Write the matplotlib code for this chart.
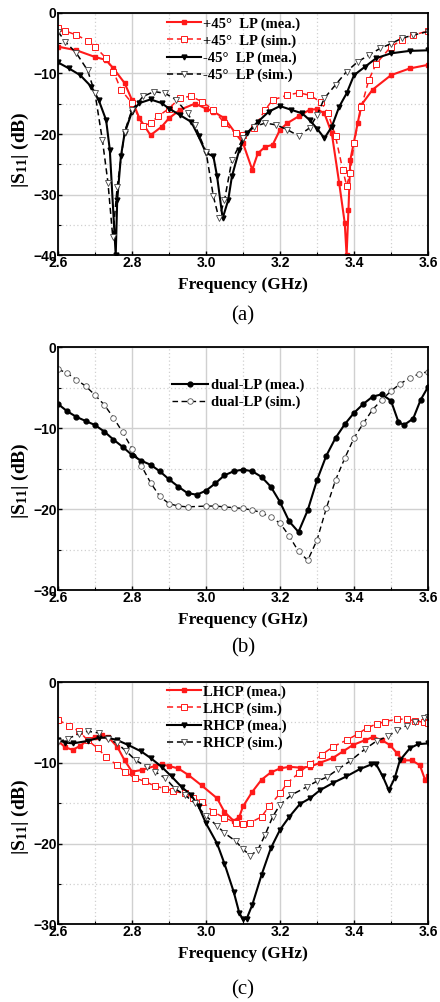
import matplotlib
matplotlib.use("Agg")
import matplotlib.pyplot as plt
from matplotlib.ticker import MultipleLocator

# ---------------- Data (a) ----------------
a_p45_mea_f = [2.6, 2.65, 2.7, 2.73, 2.75, 2.78, 2.8, 2.82, 2.85, 2.88, 2.9, 2.93, 2.97, 3.0, 3.02, 3.05,
               3.08, 3.1, 3.125, 3.14, 3.16, 3.18, 3.2, 3.22, 3.25, 3.28, 3.3, 3.32, 3.34, 3.36, 3.375,
               3.38, 3.385, 3.39, 3.41, 3.42, 3.45, 3.5, 3.55, 3.6]
a_p45_mea_s = [-5.6, -6.2, -7.3, -7.8, -9.2, -11.6, -14.4, -17.4, -20.2, -18.8, -17.4, -16.0, -15.0, -15.8,
               -16.3, -17.4, -19.9, -21.5, -25.9, -23.2, -22.1, -21.8, -19.3, -18.2, -17.1, -16.0, -15.9,
               -16.6, -19.9, -28.1, -34.7, -40.0, -32.5, -24.3, -18.2, -15.2, -12.7, -10.3, -9.2, -8.6]

a_p45_sim_f = [2.6, 2.62, 2.65, 2.68, 2.7, 2.73, 2.75, 2.77, 2.8, 2.83, 2.85, 2.87, 2.9, 2.93, 2.96, 2.99,
               3.02, 3.05, 3.08, 3.1, 3.13, 3.16, 3.18, 3.22, 3.25, 3.28, 3.31, 3.33, 3.35, 3.37, 3.38,
               3.39, 3.4, 3.42, 3.44, 3.46, 3.5, 3.53, 3.56, 3.6]
a_p45_sim_s = [-2.6, -3.0, -3.7, -4.6, -5.6, -7.5, -9.7, -12.7, -14.9, -18.7, -18.2, -17.1, -15.8, -14.0,
               -13.8, -14.7, -16.0, -18.2, -19.9, -20.2, -19.0, -16.0, -14.4, -13.6, -13.2, -13.6, -14.7,
               -16.6, -20.4, -26.0, -28.5, -26.5, -21.5, -15.5, -11.1, -8.4, -5.6, -4.5, -3.7, -3.0]

a_m45_mea_f = [2.6, 2.63, 2.66, 2.69, 2.71, 2.73, 2.74, 2.756, 2.76, 2.77, 2.78, 2.8, 2.82, 2.85, 2.88,
               2.9, 2.93, 2.96, 2.98, 3.0, 3.02, 3.03, 3.045, 3.06, 3.07, 3.09, 3.11, 3.14, 3.17, 3.2,
               3.23, 3.26, 3.28, 3.3, 3.32, 3.34, 3.36, 3.38, 3.4, 3.43, 3.46, 3.5, 3.55, 3.6]
a_m45_mea_s = [-8.2, -9.2, -10.3, -12.2, -14.4, -17.7, -22.6, -40.0, -30.9, -23.7, -19.9, -16.3, -14.9,
               -14.3, -14.9, -15.8, -16.9, -18.0, -20.4, -23.1, -23.7, -27.0, -33.9, -30.9, -27.0, -22.6,
               -19.9, -18.0, -16.3, -15.4, -16.0, -16.6, -17.7, -19.1, -20.7, -18.8, -15.5, -13.3, -10.3,
               -8.9, -7.5, -6.7, -6.3, -6.2]

a_m45_sim_f = [2.6, 2.62, 2.65, 2.68, 2.7, 2.72, 2.735, 2.748, 2.76, 2.78, 2.8, 2.83, 2.86, 2.89, 2.92,
               2.95, 2.97, 3.0, 3.02, 3.035, 3.05, 3.07, 3.1, 3.13, 3.16, 3.19, 3.22, 3.25, 3.28, 3.3,
               3.32, 3.35, 3.38, 3.41, 3.44, 3.47, 3.5, 3.53, 3.56, 3.6]
a_m45_sim_s = [-3.1, -4.8, -6.7, -9.5, -13.3, -21.0, -28.0, -37.0, -28.7, -19.6, -16.0, -13.8, -13.0,
               -13.3, -14.4, -16.6, -18.5, -22.9, -30.3, -33.9, -30.9, -24.3, -20.7, -18.8, -18.2, -18.5,
               -19.3, -20.3, -19.0, -16.9, -14.1, -11.9, -9.7, -8.1, -7.0, -5.9, -5.1, -4.2, -3.7, -3.1]

# ---------------- Data (b) ----------------
b_mea_f = [2.6, 2.625, 2.65, 2.675, 2.7, 2.725, 2.75, 2.775, 2.8, 2.825, 2.85, 2.875, 2.9, 2.925, 2.95,
           2.975, 3.0, 3.025, 3.05, 3.075, 3.1, 3.125, 3.15, 3.175, 3.2, 3.225, 3.25, 3.275, 3.3, 3.325,
           3.35, 3.375, 3.4, 3.425, 3.45, 3.475, 3.5, 3.52, 3.535, 3.56, 3.58, 3.6]
b_mea_s = [-7.0, -7.9, -8.6, -9.1, -9.6, -10.4, -11.4, -12.3, -13.3, -14.0, -14.5, -15.3, -16.3, -17.2,
           -18.0, -18.2, -17.7, -16.8, -15.8, -15.3, -15.1, -15.3, -16.0, -17.2, -19.1, -21.5, -22.8,
           -20.1, -16.4, -13.4, -11.2, -9.5, -8.1, -7.0, -6.1, -5.8, -6.6, -9.2, -9.6, -8.8, -6.5, -4.9]

b_sim_f = [2.6, 2.625, 2.65, 2.675, 2.7, 2.725, 2.75, 2.775, 2.8, 2.825, 2.85, 2.875, 2.9, 2.925, 2.95,
           3.0, 3.025, 3.05, 3.075, 3.1, 3.125, 3.15, 3.175, 3.2, 3.225, 3.25, 3.275, 3.3, 3.325, 3.35,
           3.375, 3.4, 3.425, 3.45, 3.475, 3.5, 3.525, 3.55, 3.575, 3.6]
b_sim_s = [-2.7, -3.2, -4.0, -4.8, -5.9, -7.1, -8.7, -10.5, -12.5, -14.6, -16.7, -18.4, -19.3, -19.6,
           -19.7, -19.6, -19.6, -19.7, -19.8, -19.9, -20.1, -20.4, -21.0, -21.7, -23.3, -25.2, -26.3,
           -23.8, -19.9, -16.4, -13.7, -11.2, -9.4, -7.7, -6.5, -5.4, -4.5, -3.8, -3.3, -3.0]

# ---------------- Data (c) ----------------
c_lh_mea_f = [2.6, 2.62, 2.64, 2.66, 2.68, 2.7, 2.72, 2.735, 2.76, 2.78, 2.8, 2.826, 2.862, 2.88, 2.9,
              2.925, 2.952, 2.988, 3.03, 3.05, 3.075, 3.09, 3.1, 3.125, 3.15, 3.175, 3.2, 3.225, 3.254,
              3.281, 3.308, 3.343, 3.37, 3.397, 3.43, 3.452, 3.475, 3.497, 3.516, 3.532, 3.556, 3.578,
              3.592, 3.6]
c_lh_mea_s = [-7.3, -8.1, -8.4, -7.9, -7.2, -6.8, -6.6, -6.8, -8.0, -9.7, -11.1, -10.9, -10.4, -10.2,
              -10.4, -10.7, -11.5, -12.8, -14.4, -16.1, -17.2, -16.7, -15.4, -13.6, -12.1, -11.2, -10.7,
              -10.5, -10.6, -10.5, -10.0, -9.4, -8.6, -7.8, -7.2, -6.8, -7.2, -7.8, -8.8, -9.7, -9.7,
              -10.3, -12.1, -11.7]

c_lh_sim_f = [2.6, 2.63, 2.657, 2.68, 2.707, 2.73, 2.76, 2.78, 2.808, 2.835, 2.862, 2.89, 2.91, 2.943,
              2.965, 2.99, 3.02, 3.05, 3.08, 3.1, 3.12, 3.15, 3.17, 3.2, 3.22, 3.25, 3.281, 3.313, 3.344,
              3.38, 3.412, 3.434, 3.461, 3.484, 3.515, 3.542, 3.564, 3.59, 3.6]
c_lh_sim_s = [-4.7, -5.4, -6.1, -7.2, -8.2, -9.3, -10.3, -11.1, -11.9, -12.3, -12.9, -13.2, -13.5, -13.8,
              -14.4, -14.8, -16.1, -16.8, -17.4, -17.6, -17.4, -16.7, -15.4, -13.8, -12.5, -11.3, -10.1,
              -9.0, -8.0, -7.2, -6.4, -5.7, -5.2, -4.9, -4.6, -4.6, -4.8, -5.0, -5.1]

c_rh_mea_f = [2.6, 2.62, 2.64, 2.68, 2.71, 2.735, 2.76, 2.79, 2.825, 2.85, 2.88, 2.907, 2.934, 2.96, 2.98,
              3.0, 3.03, 3.05, 3.075, 3.09, 3.1, 3.11, 3.125, 3.15, 3.175, 3.2, 3.225, 3.254, 3.281,
              3.308, 3.343, 3.379, 3.415, 3.447, 3.46, 3.478, 3.494, 3.51, 3.524, 3.551, 3.573, 3.6]
c_rh_mea_s = [-7.2, -7.5, -7.6, -7.3, -6.9, -6.9, -7.2, -7.8, -8.6, -9.4, -10.5, -11.7, -13.0, -14.0,
              -15.4, -17.5, -20.0, -22.5, -26.0, -28.6, -29.4, -29.3, -27.6, -23.9, -20.6, -18.3, -16.7,
              -15.1, -14.4, -13.4, -12.5, -11.7, -10.8, -10.2, -10.2, -11.7, -13.4, -11.9, -9.7, -8.2,
              -7.7, -7.6]

c_rh_sim_f = [2.6, 2.628, 2.657, 2.68, 2.71, 2.735, 2.76, 2.785, 2.81, 2.84, 2.862, 2.89, 2.916, 2.943,
              2.97, 3.0, 3.03, 3.05, 3.08, 3.1, 3.12, 3.14, 3.16, 3.18, 3.2, 3.23, 3.272, 3.299, 3.326,
              3.357, 3.389, 3.43, 3.461, 3.493, 3.515, 3.542, 3.564, 3.589, 3.6]
c_rh_sim_s = [-7.4, -7.0, -6.4, -6.1, -6.3, -7.0, -7.6, -8.6, -9.7, -10.5, -11.1, -11.9, -13.2, -14.0,
              -15.0, -16.6, -17.8, -18.7, -19.7, -20.7, -21.5, -20.8, -18.9, -16.7, -15.2, -14.0, -13.0,
              -12.3, -11.8, -10.8, -9.8, -8.3, -7.3, -6.7, -6.0, -5.4, -5.0, -4.4, -4.3]

# ---------------- Plot ----------------
SERIF = "Liberation Serif"
SANS = "Liberation Sans"
RED = "#ff1a1a"

plt.rcParams["mathtext.fontset"] = "custom"
plt.rcParams["mathtext.rm"] = SERIF
plt.rcParams["mathtext.bf"] = SERIF + ":bold"
plt.rcParams["mathtext.it"] = SERIF + ":italic"

fig = plt.figure(figsize=(4.4, 10.02), dpi=100)


def setup(ax, ymin, panel_label, label_y, ylab_y):
    ax.set_xlim(2.6, 3.6)
    ax.set_ylim(ymin, 0)
    ax.xaxis.set_major_locator(MultipleLocator(0.2))
    ax.xaxis.set_minor_locator(MultipleLocator(0.1))
    ax.yaxis.set_major_locator(MultipleLocator(10))
    ax.yaxis.set_minor_locator(MultipleLocator(5))
    ax.grid(which="major", color="#d0d0d0", lw=1.0, ls="-")
    ax.grid(which="minor", color="#d0d0d0", lw=0.9, ls=(0, (1, 2)))
    ax.set_axisbelow(True)
    ax.tick_params(which="both", direction="in", top=False, right=False)
    ax.tick_params(which="major", length=3, width=1)
    ax.tick_params(which="minor", length=2, width=0.8)
    for sp in ax.spines.values():
        sp.set_linewidth(1.3)
    ax.set_xticks([2.6, 2.8, 3.0, 3.2, 3.4, 3.6])
    ax.set_xticklabels(["2.6", "2.8", "3.0", "3.2", "3.4", "3.6"])
    for lab in ax.get_xticklabels() + ax.get_yticklabels():
        lab.set_fontfamily(SANS)
        lab.set_fontweight("bold")
        lab.set_fontsize(10)
    ax.tick_params(axis="x", pad=0.5)
    ax.tick_params(axis="y", pad=1)
    ax.set_xlabel("Frequency (GHz)", fontfamily=SERIF, fontweight="bold", fontsize=12.5, labelpad=5)
    ax.set_ylabel(r"$\mathbf{|S_{11}|}$ (dB)", fontfamily=SERIF, fontweight="bold", fontsize=14)
    ax.yaxis.set_label_coords(-0.072, ylab_y)
    fig.text(0.552, label_y, panel_label, ha="center", va="center", fontfamily=SERIF, fontsize=15)


L = 58 / 440
W = 370 / 440


def axes_at(top_px, bot_px):
    return fig.add_axes([L, 1 - bot_px / 1002, W, (bot_px - top_px) / 1002])


leg_kw = dict(frameon=False, handlelength=2.3, handletextpad=0.15, labelspacing=0.25,
              prop={"family": SERIF, "weight": "bold", "size": 10.5}, borderaxespad=0,
              borderpad=0)

# (a)
ax = axes_at(12.7, 255.3)
ax.plot(a_p45_mea_f, a_p45_mea_s, color=RED, lw=1.5, marker="s", ms=3.5, mfc=RED, mec=RED,
        label="+45°  LP (mea.)")
ax.plot(a_p45_sim_f, a_p45_sim_s, color=RED, lw=1.1, ls=(0, (4, 2.5)), marker="s", ms=4, mfc="white",
        mec=RED, mew=0.7, label="+45°  LP (sim.)")
ax.plot(a_m45_mea_f, a_m45_mea_s, color="black", lw=1.5, marker="v", ms=3.5, mfc="black", mec="black",
        label="-45°  LP (mea.)")
ax.plot(a_m45_sim_f, a_m45_sim_s, color="black", lw=1.1, ls=(0, (4, 2.5)), marker="v", ms=4.5,
        mfc="white", mec="#444444", mew=0.6, label="-45°  LP (sim.)")
setup(ax, -40, "(a)", 1 - 316 / 1002, 0.435)
ax.legend(loc="upper left", bbox_to_anchor=(0.295, 0.982), **leg_kw)

# (b)
ax = axes_at(347.3, 590.3)
ax.plot(b_mea_f, b_mea_s, color="black", lw=1.5, marker="o", ms=3.5, mfc="black", mec="black",
        label="dual-LP (mea.)")
ax.plot(b_sim_f, b_sim_s, color="black", lw=1.0, ls=(0, (4, 2.5)), marker="o", ms=4, mfc="white",
        mec="#555555", mew=0.6, label="dual-LP (sim.)")
setup(ax, -30, "(b)", 1 - 648 / 1002, 0.452)
ax.legend(loc="upper left", bbox_to_anchor=(0.308, 0.872), handlelength=2.5,
          **{k: v for k, v in leg_kw.items() if k != "handlelength"})

# (c)
ax = axes_at(682.0, 924.3)
ax.plot(c_lh_mea_f, c_lh_mea_s, color=RED, lw=1.5, marker="s", ms=3.5, mfc=RED, mec=RED,
        label="LHCP (mea.)")
ax.plot(c_lh_sim_f, c_lh_sim_s, color=RED, lw=1.1, ls=(0, (4, 2.5)), marker="s", ms=4, mfc="white",
        mec=RED, mew=0.7, label="LHCP (sim.)")
ax.plot(c_rh_mea_f, c_rh_mea_s, color="black", lw=1.5, marker="v", ms=3.5, mfc="black", mec="black",
        label="RHCP (mea.)")
ax.plot(c_rh_sim_f, c_rh_sim_s, color="black", lw=1.1, ls=(0, (4, 2.5)), marker="v", ms=4.5,
        mfc="white", mec="#444444", mew=0.6, label="RHCP (sim.)")
setup(ax, -30, "(c)", 1 - 990 / 1002, 0.443)
ax.legend(loc="upper left", bbox_to_anchor=(0.295, 0.987), **leg_kw)

fig.savefig("out.png", dpi=100)
